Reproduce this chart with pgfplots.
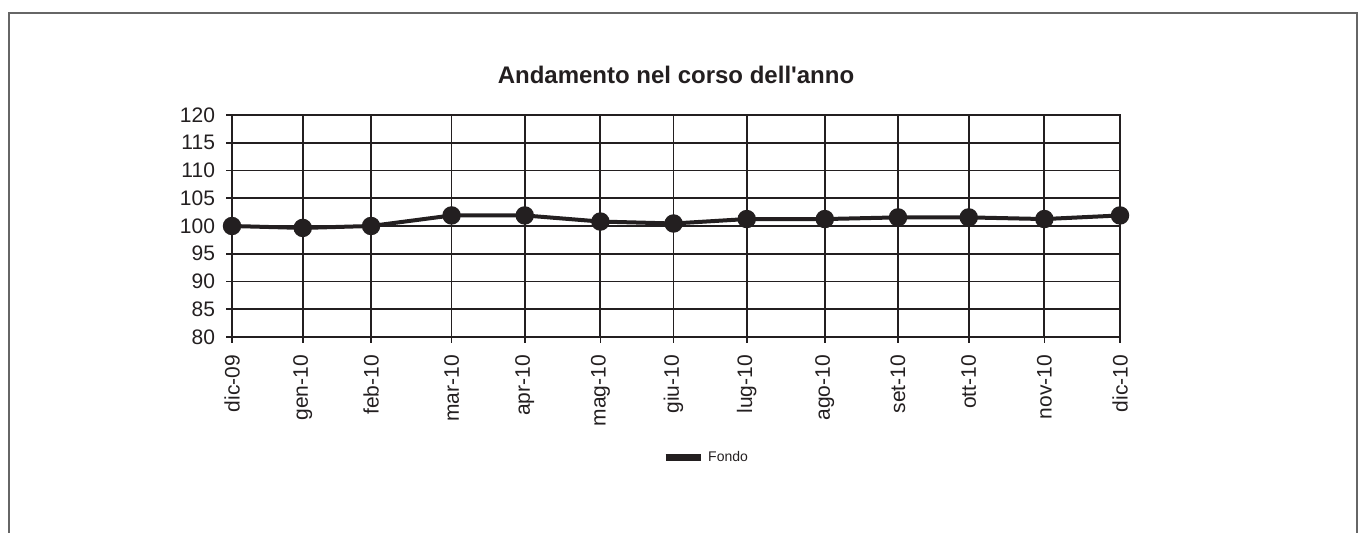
\documentclass[border=0pt]{standalone}
\usepackage{fontspec}
\setmainfont{Liberation Sans}
\usepackage{pgfplots}
\pgfplotsset{compat=1.18}
\definecolor{ink}{HTML}{231F20}
\begin{document}
\begin{tikzpicture}[x=1pt,y=1pt]
\useasboundingbox (0,0) rectangle (679,266.5);
\draw[line width=1pt, black!60] (4.25,-2) -- (4.25,260) -- (678.5,260) -- (678.5,-2);
\begin{axis}[
  at={(116pt,98pt)}, anchor=south west,
  scale only axis, width=444pt, height=111pt,
  xmin=0, xmax=364, ymin=80, ymax=120,
  xtick={0,29,57,90,120,151,181,211,243,273,302,333,364},
  xticklabels={dic-09,gen-10,feb-10,mar-10,apr-10,mag-10,giu-10,lug-10,ago-10,set-10,ott-10,nov-10,dic-10},
  ytick={80,85,...,120},
  tick pos=left,
  /pgf/number format/assume math mode=true,
  tick label style={font=\fontsize{10.5}{12}\selectfont, text=ink},
  xticklabel style={rotate=90, anchor=east, xshift=-2.5pt},
  yticklabel style={xshift=-2pt},
  grid=major,
  major grid style={line width=0.9pt, ink},
  axis line style={line width=1.1pt, ink},
  tick style={line width=0.8pt, ink},
  tick align=outside, major tick length=3pt,
  title={\bfseries Andamento nel corso dell\textquotesingle anno},
  title style={font=\fontsize{12}{14}\selectfont, text=ink, at={(0.5,1)}, anchor=south, yshift=6pt},
  legend style={draw=none, fill=none, at={(0.535,-0.545)}, anchor=center, font=\fontsize{7}{8}\selectfont, text=ink, inner sep=0pt},
  legend image code/.code={\draw[line width=3.5pt, ink] (0pt,0pt) -- (17.5pt,0pt);},
]
\addplot[line width=2pt, ink, mark=*, mark size=3.6pt, mark options={fill=ink, draw=ink}]
coordinates {
(0,100.0) (29,99.65) (57,100.0) (90,101.9) (120,101.9) (151,100.8) (181,100.45)
(211,101.25) (243,101.25) (273,101.55) (302,101.55) (333,101.25) (364,101.9)
};
\addlegendentry{Fondo}
\end{axis}
\end{tikzpicture}
\end{document}
